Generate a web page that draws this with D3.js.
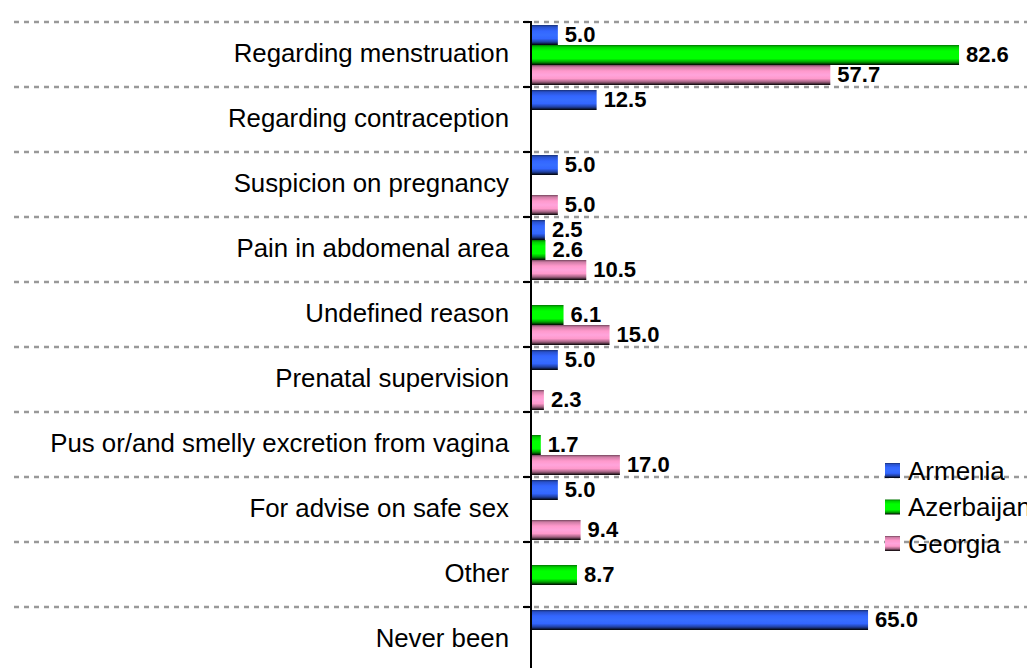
<!DOCTYPE html>
<html>
<head>
<meta charset="utf-8">
<script src="https://cdn.jsdelivr.net/npm/d3@7"></script>
<style>
  body { margin: 0; background: #fff; }
  svg { display: block; font-family: Arial, "Liberation Sans", sans-serif; }
</style>
</head>
<body>
<div id="chart"></div>
<script>
// chart values
const categories = [
  "Regarding menstruation",
  "Regarding contraception",
  "Suspicion on pregnancy",
  "Pain in abdomenal area",
  "Undefined reason",
  "Prenatal supervision",
  "Pus or/and smelly excretion from vagina",
  "For advise on safe sex",
  "Other",
  "Never been"
];
const seriesNames = ["Armenia", "Azerbaijan", "Georgia"];
const armenia    = [5.0, 12.5, 5.0, 2.5, null, 5.0, null, 5.0, null, 65.0];
const azerbaijan = [82.6, null, null, 2.6, 6.1, null, 1.7, null, 8.7, null];
const georgia    = [57.7, null, 5.0, 10.5, 15.0, 2.3, 17.0, 9.4, null, null];
const seriesColors = ["#3366ff", "#00ff00", "#ff99cc"];

const svgWidth = 1027;
const svgHeight = 668;
const axisX = 532;

const svg = d3.select("#chart")
  .append("svg")
  .attr("width", svgWidth)
  .attr("height", svgHeight);

// gradients for the bars (dark edges, bright middle)
const defs = svg.append("defs");
seriesColors.forEach((c, i) => {
  const base = d3.color(c);
  const g = defs.append("linearGradient")
    .attr("id", "grad" + i)
    .attr("x1", 0).attr("y1", 0).attr("x2", 0).attr("y2", 1);
  const stops = [
    [0, base.darker(2.2)],
    [0.1, base.darker(0.6)],
    [0.3, base],
    [0.5, base.brighter(0.2)],
    [0.68, base],
    [0.85, base.darker(1.3)],
    [1, d3.rgb(0, 0, 0)]
  ];
  stops.forEach(s => g.append("stop")
    .attr("offset", s[0])
    .attr("stop-color", s[1].formatHex()));
});

const yScale = d3.scaleBand()
  .domain(categories)
  .range([22, 22 + 65 * categories.length]);

const ySub = d3.scaleBand()
  .domain(seriesNames)
  .range([3, 63]);

const xScale = d3.scaleLinear()
  .domain([0, 100])
  .range([axisX, axisX + 517]);

// gridlines + ticks at band boundaries
const bounds = categories.map(c => yScale(c)).concat([yScale.range()[1]]);

svg.selectAll(".grid")
  .data(bounds)
  .enter()
  .append("line")
  .attr("x1", 14)
  .attr("x2", svgWidth)
  .attr("y1", d => d)
  .attr("y2", d => d)
  .attr("stroke", "#999")
  .attr("stroke-width", 2.5)
  .attr("stroke-dasharray", "5,5");

svg.selectAll(".tick")
  .data(bounds)
  .enter()
  .append("line")
  .attr("x1", axisX - 9)
  .attr("x2", axisX)
  .attr("y1", d => d)
  .attr("y2", d => d)
  .attr("stroke", "#000")
  .attr("stroke-width", 2);

// category labels
svg.selectAll(".cat")
  .data(categories)
  .enter()
  .append("text")
  .attr("x", 509)
  .attr("y", d => yScale(d) + yScale.bandwidth() / 2)
  .attr("dy", "0.28em")
  .attr("text-anchor", "end")
  .style("font-size", "25.8px")
  .style("fill", "#000")
  .text(d => d);

// bars
const allSeries = [armenia, azerbaijan, georgia];
const barData = [];
allSeries.forEach((vals, si) => {
  vals.forEach((v, ci) => {
    if (v !== null) barData.push({ s: si, cat: categories[ci], v: v });
  });
});

svg.selectAll(".bar")
  .data(barData)
  .enter()
  .append("rect")
  .attr("x", xScale(0))
  .attr("y", d => yScale(d.cat) + ySub(seriesNames[d.s]))
  .attr("width", d => xScale(d.v) - xScale(0))
  .attr("height", ySub.bandwidth())
  .attr("fill", d => `url(#grad${d.s})`);

svg.selectAll(".val")
  .data(barData)
  .enter()
  .append("text")
  .attr("x", d => xScale(d.v) + 7)
  .attr("y", d => yScale(d.cat) + ySub(seriesNames[d.s]) + ySub.bandwidth() / 2)
  .attr("dy", "0.34em")
  .style("font-size", "22px")
  .style("font-weight", "bold")
  .style("fill", "#000")
  .text(d => d.v.toFixed(1));

// axis line
svg.append("line")
  .attr("x1", axisX - 1)
  .attr("x2", axisX - 1)
  .attr("y1", 21)
  .attr("y2", svgHeight)
  .attr("stroke", "#000")
  .attr("stroke-width", 2);

// legend
const legend = svg.selectAll(".legend")
  .data(seriesNames)
  .enter()
  .append("g")
  .attr("transform", (d, i) => `translate(885, ${463 + i * 36.5})`);

legend.append("rect")
  .attr("width", 15)
  .attr("height", 15)
  .attr("fill", (d, i) => `url(#grad${i})`);

legend.append("text")
  .attr("x", 23)
  .attr("y", 7.5)
  .attr("dy", "0.36em")
  .style("font-size", "26px")
  .style("fill", "#000")
  .text(d => d);
</script>
</body>
</html>
